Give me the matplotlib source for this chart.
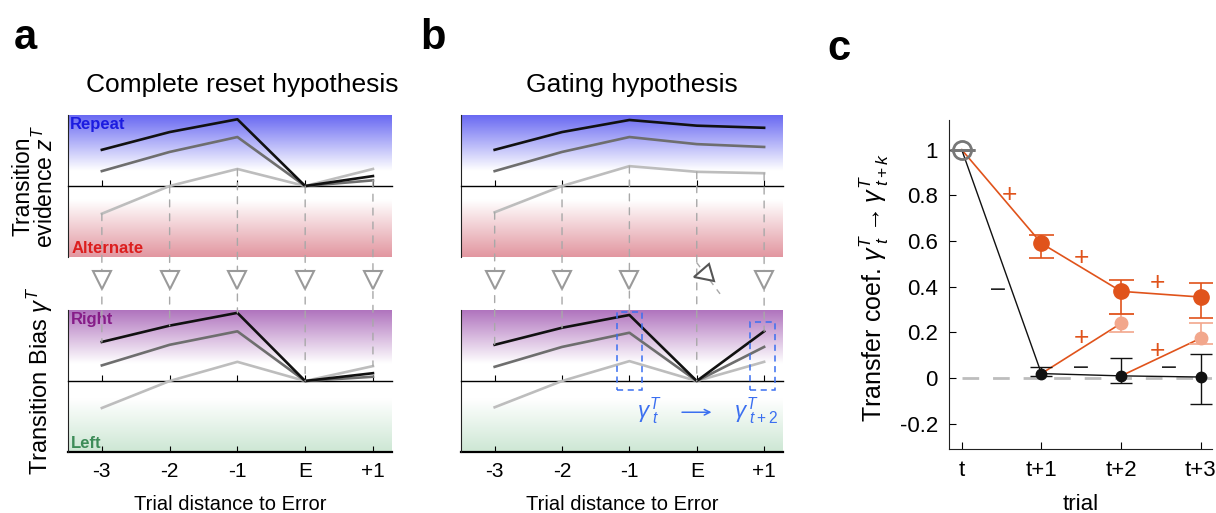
import numpy as np
import matplotlib
matplotlib.use("Agg")
import matplotlib.pyplot as plt
from matplotlib.patches import ConnectionPatch, Rectangle
from matplotlib.lines import Line2D
from matplotlib.markers import MarkerStyle
from matplotlib.transforms import Affine2D
from matplotlib.ticker import FuncFormatter

plt.rcParams['font.family'] = ['Liberation Sans', 'DejaVu Sans']
plt.rcParams['mathtext.fontset'] = 'custom'
plt.rcParams['mathtext.rm'] = 'Liberation Sans'
plt.rcParams['mathtext.it'] = 'Liberation Sans:italic'

# ---- data -------------------------------------------------------------
trial_labels = ['-3', '-2', '-1', 'E', '+1']

# panel a, complete reset: transition evidence z^T
reset_z_black = [0.51, 0.76, 0.94, 0.0, 0.14]
reset_z_dark = [0.21, 0.48, 0.69, 0.0, 0.08]
reset_z_light = [-0.39, 0.0, 0.24, 0.0, 0.24]
# panel a, complete reset: transition bias gamma^T
reset_g_black = [0.55, 0.78, 0.96, 0.0, 0.11]
reset_g_dark = [0.22, 0.51, 0.70, 0.0, 0.06]
reset_g_light = [-0.38, 0.0, 0.27, 0.0, 0.21]

# panel b, gating
gate_z_black = [0.51, 0.76, 0.93, 0.85, 0.82]
gate_z_dark = [0.21, 0.48, 0.69, 0.59, 0.55]
gate_z_light = [-0.37, 0.0, 0.28, 0.20, 0.18]
gate_g_black = [0.51, 0.75, 0.93, 0.0, 0.70]
gate_g_dark = [0.20, 0.48, 0.68, 0.0, 0.48]
gate_g_light = [-0.37, 0.0, 0.28, 0.0, 0.27]

# panel c, transfer coefficients
lag_labels = ['t', 't+1', 't+2', 't+3']
after_correct = [1.0, 0.59, 0.38, 0.355]
after_correct_lo = [1.0, 0.525, 0.28, 0.265]
after_correct_hi = [1.0, 0.625, 0.43, 0.415]
after_error = [1.0, 0.02, 0.01, 0.005]
after_error_lo = [1.0, 0.01, -0.02, -0.115]
after_error_hi = [1.0, 0.05, 0.087, 0.105]
rebound = [np.nan, np.nan, 0.24, 0.175]
rebound_lo = [np.nan, np.nan, 0.20, 0.15]
rebound_hi = [np.nan, np.nan, 0.28, 0.24]

# ---- styles -----------------------------------------------------------
c_black, c_dark, c_light = '#111111', '#6e6e6e', '#bdbdbd'
c_orange, c_orange_l = '#e0531b', '#f2a78c'
c_dash = '#a8a8a8'

fig = plt.figure(figsize=(12.16, 5.13), dpi=100)

ax_at = fig.add_axes([0.0559, 0.499, 0.2664, 0.2768])
ax_ab = fig.add_axes([0.0559, 0.1189, 0.2664, 0.2768])
ax_bt = fig.add_axes([0.3791, 0.499, 0.2648, 0.2768])
ax_bb = fig.add_axes([0.3791, 0.1189, 0.2648, 0.2768])
ax_c = fig.add_axes([0.7804, 0.1248, 0.2163, 0.6413])

x = np.arange(len(trial_labels))
xlim = (-0.5, 4.28)


def gradient(ax, top_rgb, bot_rgb, top_start, bot_start):
    y = np.linspace(1, -1, 300)
    wt = np.clip((y - top_start) / (1 - top_start), 0, 1)[:, None]
    wb = np.clip((-y - bot_start) / (1 - bot_start), 0, 1)[:, None]
    white = np.array([1.0, 1.0, 1.0])
    img = white * (1 - wt - wb) + np.array(top_rgb) / 255 * wt + np.array(bot_rgb) / 255 * wb
    ax.imshow(img[:, None, :], extent=[xlim[0], xlim[1], -1, 1], aspect='auto',
              interpolation='bilinear', zorder=0)


def setup(ax, series, top_rgb, bot_rgb, top_start, bot_start):
    gradient(ax, top_rgb, bot_rgb, top_start, bot_start)
    for s, col in zip(series, [c_light, c_dark, c_black]):
        ax.plot(x, s, color=col, lw=1.9, zorder=3)
    ax.set_xlim(*xlim)
    ax.set_ylim(-1, 1)
    ax.set_yticks([])
    ax.spines['top'].set_visible(False)
    ax.spines['right'].set_visible(False)
    ax.spines['left'].set_color('#222222')
    ax.spines['bottom'].set_position(('data', 0))
    ax.spines['bottom'].set_linewidth(1.0)
    ax.set_xticks(x)
    ax.tick_params(axis='x', direction='in', length=4, labelbottom=False)


top_cols = dict(top_rgb=(105, 105, 242), bot_rgb=(226, 150, 160), top_start=0.22, bot_start=0.2)
bot_cols = dict(top_rgb=(176, 116, 190), bot_rgb=(205, 231, 212), top_start=0.25, bot_start=0.25)

setup(ax_at, [reset_z_light, reset_z_dark, reset_z_black], **top_cols)
setup(ax_ab, [reset_g_light, reset_g_dark, reset_g_black], **bot_cols)
setup(ax_bt, [gate_z_light, gate_z_dark, gate_z_black], **top_cols)
setup(ax_bb, [gate_g_light, gate_g_dark, gate_g_black], **bot_cols)

for ax in (ax_ab, ax_bb):
    sec = ax.secondary_xaxis('bottom')
    sec.set_xticks(x)
    sec.set_xticklabels(trial_labels, fontsize=15)
    sec.tick_params(direction='in', length=4, pad=7)
    sec.spines['bottom'].set_linewidth(1.6)
    sec.set_xlabel('Trial distance to Error', fontsize=14.5, labelpad=10)

# side labels only on panel a
ax_at.text(0.005, 0.985, 'Repeat', transform=ax_at.transAxes, color='#1c1ce0',
           fontsize=12, fontweight='bold', va='top', ha='left', zorder=4)
ax_at.text(0.01, 0.01, 'Alternate', transform=ax_at.transAxes, color='#dc1e1e',
           fontsize=12, fontweight='bold', va='bottom', ha='left', zorder=4)
ax_ab.text(0.01, 0.985, 'Right', transform=ax_ab.transAxes, color='#861c88',
           fontsize=12, fontweight='bold', va='top', ha='left', zorder=4)
ax_ab.text(0.01, 0.01, 'Left', transform=ax_ab.transAxes, color='#3d8c58',
           fontsize=12, fontweight='bold', va='bottom', ha='left', zorder=4)

ax_at.set_ylabel('Transition\nevidence $z^T$', fontsize=16.5, linespacing=0.95)
ax_at.yaxis.set_label_coords(-0.03, 0.5)
ax_ab.set_ylabel(r'Transition Bias $\gamma^T$', fontsize=17)
ax_ab.yaxis.set_label_coords(-0.04, 0.5)

# dashed guide lines and triangles between the top and bottom panels
tri_y = -1.32
for ax_t, ax_b, tops, bots, gating in [
        (ax_at, ax_ab, [reset_z_light, reset_z_dark, reset_z_black],
         [reset_g_light, reset_g_dark, reset_g_black], False),
        (ax_bt, ax_bb, [gate_z_light, gate_z_dark, gate_z_black],
         [gate_g_light, gate_g_dark, gate_g_black], True)]:
    for i in x:
        lo = min(s[i] for s in tops)
        hi = max(s[i] for s in bots)
        con = ConnectionPatch(xyA=(i, lo), coordsA=ax_t.transData,
                              xyB=(i, hi), coordsB=ax_b.transData,
                              color=c_dash, lw=1.0, ls=(0, (5, 5)), zorder=2)
        fig.add_artist(con)
    keep = [i for i in x if not (gating and trial_labels[i] == 'E')]
    fig.add_artist(Line2D(keep, [tri_y] * len(keep), transform=ax_t.transData,
                          ls='none', marker='v', ms=13, mfc='white', mec='#9a9a9a',
                          mew=1.5, zorder=4))
    if gating:
        e = trial_labels.index('E')
        fig.add_artist(Line2D([e, e + 0.37], [-1.08, -1.55], transform=ax_t.transData,
                              color=c_dash, lw=1.0, ls=(0, (4, 4)), zorder=3))
        rot = MarkerStyle('v', transform=Affine2D().rotate_deg(-75))
        fig.add_artist(Line2D([e + 0.1], [-1.26], transform=ax_t.transData,
                              ls='none', marker=rot, ms=13, mfc='white', mec='#555555',
                              mew=1.5, zorder=4))

# dashed blue boxes and gamma labels in panel b
box_blue = '#3b6ff0'
for xc, ytop, x0, x1 in [(2, 0.97, -0.18, 0.18), (4, 0.83, -0.21, 0.16)]:
    ax_bb.add_patch(Rectangle((xc + x0, -0.13), x1 - x0, ytop + 0.13, fill=False,
                              ec=box_blue, lw=1.1, ls=(0, (4, 3)), zorder=5))
ax_bb.text(2.3, -0.42, r'$\gamma^{T}_{\ t}$', color=box_blue, fontsize=16,
           ha='center', va='center', zorder=5)
ax_bb.text(3.88, -0.42, r'$\gamma^{T}_{\ t+2}$', color=box_blue, fontsize=16,
           ha='center', va='center', zorder=5)
ax_bb.annotate('', xy=(3.26, -0.44), xytext=(2.74, -0.44),
               arrowprops=dict(arrowstyle='->', color=box_blue, lw=1.1), zorder=5)

# titles and panel letters
fig.text(0.199, 0.835, 'Complete reset hypothesis', fontsize=19, ha='center', va='center')
fig.text(0.520, 0.835, 'Gating hypothesis', fontsize=19, ha='center', va='center')
fig.text(0.021, 0.925, 'a', fontsize=30, fontweight='bold', ha='center', va='center')
fig.text(0.356, 0.925, 'b', fontsize=30, fontweight='bold', ha='center', va='center')
fig.text(0.690, 0.905, 'c', fontsize=30, fontweight='bold', ha='center', va='center')

# ---- panel c ----------------------------------------------------------
lags = np.arange(len(lag_labels))
ax_c.plot([0, 3.14], [0, 0], color='#bdbdbd', lw=2, ls=(0, (6, 5)), zorder=1)

ac = np.array(after_correct)
ae = np.array(after_error)
rb = np.array(rebound)
ax_c.plot(lags, ac, color=c_orange, lw=1.2, zorder=2)
ax_c.plot(lags, ae, color=c_black, lw=1.0, zorder=2)
for k in (2, 3):
    ax_c.plot([k - 1, k], [ae[k - 1], rb[k]], color=c_orange, lw=1.2, zorder=2)

ax_c.errorbar(lags[1:], ac[1:],
              yerr=[ac[1:] - np.array(after_correct_lo[1:]), np.array(after_correct_hi[1:]) - ac[1:]],
              fmt='o', color=c_orange, ms=11, capsize=9, elinewidth=1.2, capthick=1.2, zorder=4)
ax_c.errorbar(lags[2:], rb[2:],
              yerr=[rb[2:] - np.array(rebound_lo[2:]), np.array(rebound_hi[2:]) - rb[2:]],
              fmt='o', color=c_orange_l, ms=9, capsize=9, elinewidth=1.2, capthick=1.2, zorder=3)
ax_c.errorbar(lags[1:], ae[1:],
              yerr=[ae[1:] - np.array(after_error_lo[1:]), np.array(after_error_hi[1:]) - ae[1:]],
              fmt='o', color=c_black, ms=7.5, capsize=8, elinewidth=1.0, capthick=1.0, zorder=5)
ax_c.errorbar([0], [1.0], yerr=[[0], [0]], fmt='o', mfc='none', mec='#777777', mew=2,
              ms=13, color='#777777', capsize=9, capthick=1.6, zorder=5)

plus_x = [0.6, 1.5, 2.45, 1.5, 2.45]
plus_y = [0.8, 0.525, 0.415, 0.175, 0.12]
minus_x = [0.45, 1.5, 2.6]
minus_y = [0.39, 0.05, 0.05]
for px, py in zip(plus_x, plus_y):
    ax_c.text(px, py, '+', color=c_orange, fontsize=19, ha='center', va='center')
for mx, my in zip(minus_x, minus_y):
    ax_c.text(mx, my, '\u2013', color='#222222', fontsize=18, ha='center', va='center')

ax_c.set_xlim(-0.16, 3.14)
ax_c.set_ylim(-0.31, 1.13)
ax_c.set_xticks(lags)
ax_c.set_xticklabels(lag_labels)
ax_c.set_yticks([-0.2, 0, 0.2, 0.4, 0.6, 0.8, 1.0])
ax_c.yaxis.set_major_formatter(FuncFormatter(lambda v, p: f'{v:g}'))
ax_c.tick_params(direction='in', labelsize=16, length=5, pad=8)
ax_c.spines['top'].set_visible(False)
ax_c.spines['right'].set_visible(False)
for sp in ('left', 'bottom'):
    ax_c.spines[sp].set_color('#222222')
ax_c.set_xlabel('trial', fontsize=16, labelpad=9)
ax_c.set_ylabel(r'Transfer coef. $\gamma^{T}_{\ t}\rightarrow\gamma^{T}_{\ t+k}$', fontsize=18)
ax_c.yaxis.set_label_coords(-0.22, 0.49)

fig.savefig('out.png', dpi=100)
